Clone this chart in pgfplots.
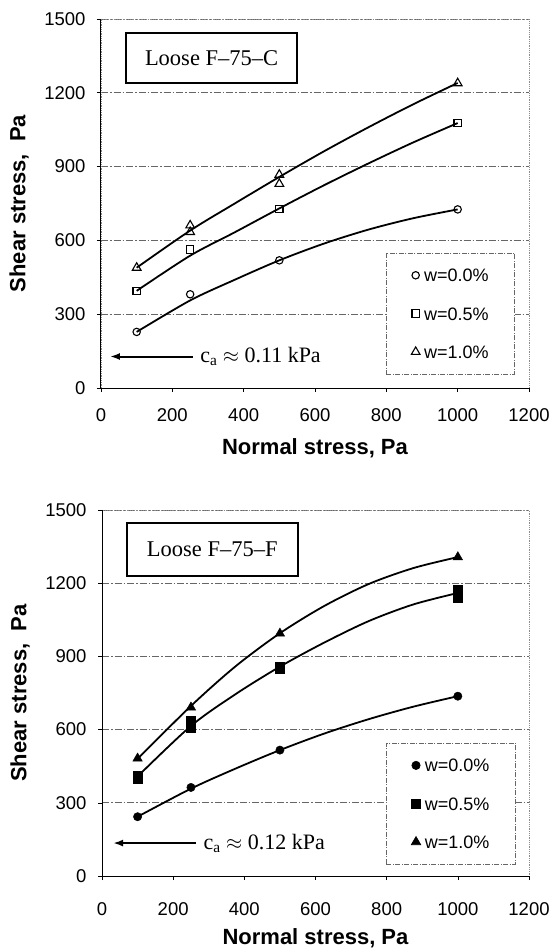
\documentclass[border=0pt]{standalone}
\usepackage{fontspec}
\setmainfont{Liberation Sans}
\newfontfamily\seriffont{Liberation Serif}
\usepackage{pgfplots}
\pgfplotsset{compat=1.18}
\usetikzlibrary{arrows.meta}

\pgfplotsset{
  markleg/.style={legend image code/.code={\draw[##1] plot coordinates {(0pt,0pt)};}},
  myax/.style={
    scale only axis,
    xmin=0, xmax=1200, ymin=0, ymax=1500,
    xtick={0,200,...,1200}, ytick={0,300,...,1500},
    xtick pos=bottom, ytick pos=left,
    /pgf/number format/assume math mode=true,
    /pgf/number format/1000 sep={},
    tick label style={font=\fontsize{18.5}{21}\selectfont, black},
    yticklabel={\pgfmathprintnumber{\tick}\hspace*{8pt}},
    label style={font=\bfseries\fontsize{22}{25}\selectfont},
    xlabel={Normal stress, Pa},
    ylabel={Shear stress,\ \ Pa},
    ylabel style={at={(axis description cs:0,0.5)}, anchor=center, yshift=82pt},
    ymajorgrids,
    major grid style={black!60, line width=0.7pt, dash pattern=on 7pt off 2pt on 1.5pt off 2pt},
    axis line style={black!45, densely dotted, line width=0.8pt},
    tick align=outside, major tick length=4pt,
    tick style={black, line width=0.6pt, solid},
    clip=false,
    legend cell align=left,
    legend style={
      draw=black!60, line width=0.6pt,
      dash pattern=on 5pt off 1.5pt on 1pt off 1.5pt,
      font=\fontsize{18}{20}\selectfont,
      row sep=25.3pt, column sep=3pt,
      inner xsep=25pt, inner ysep=15.8pt,
      nodes={text height=13pt, text depth=0pt, inner xsep=1pt, inner ysep=0pt},
    },
    curve/.style={smooth, line width=1.8pt, black, forget plot},
  }
}

\begin{document}
\begin{tikzpicture}
\path[use as bounding box] (0,0) rectangle (553pt,-949pt);

% ---------------- Top: Loose F-75-C ----------------
\begin{axis}[myax, width=428pt, height=369pt,
  at={(101pt,-388pt)}, anchor=south west,
  x tick label style={yshift=-13pt},
  xlabel style={at={(axis description cs:0.5,0)}, anchor=center, yshift=-60pt},
  legend style={at={(axis description cs:0.666,0.3667)}, anchor=north west},
  extra y ticks={300,600}, extra y tick labels={},
  extra y tick style={major tick length=0pt, grid style={black!70, line width=0.7pt, solid}},
]
\addplot[curve] coordinates {(100,228) (250,356) (375,440) (500,519) (625,587) (750,644) (875,690) (1000,726)};
\addplot[curve] coordinates {(100,395) (250,538) (375,633) (500,730) (625,824) (750,913) (875,998) (1000,1077)};
\addplot[curve] coordinates {(100,489) (250,640) (375,750) (500,858) (625,962) (750,1060) (875,1153) (1000,1240)};

\addplot[only marks, mark=o, mark size=3.7pt, black, mark options={solid, line width=1.1pt, fill=white}, markleg]
  coordinates {(100,228) (250,381) (500,519) (1000,726)};
\addlegendentry{w=0.0\%}
\addplot[only marks, mark=square, mark size=3.7pt, black, mark options={solid, line width=1.1pt, fill=white}, markleg]
  coordinates {(100,394) (250,563) (500,727) (1000,1077)};
\addlegendentry{w=0.5\%}
\addplot[only marks, mark=triangle, mark size=5pt, black, mark options={solid, line width=1.1pt, fill=white}, markleg]
  coordinates {(100,489) (250,634) (250,661) (500,830) (500,867) (1000,1239)};
\addlegendentry{w=1.0\%}

\draw[black, line width=1pt, solid] (rel axis cs:0,1) -- (rel axis cs:0,0) -- (rel axis cs:1,0);
\node[draw, line width=2.2pt, minimum width=171pt, minimum height=50pt, inner sep=0pt,
  font=\seriffont\fontsize{22.5}{25}\selectfont] at (axis cs:310,1340) {Loose F\textendash 75\textendash C};
\draw[-{Latex[length=10pt,width=7pt]}, line width=2pt] (axis cs:258,128) -- (axis cs:25,128);
\node[anchor=west, inner sep=0pt, font=\seriffont\fontsize{22}{24}\selectfont] at (axis cs:278,128)
  {c\textsubscript{a} $\approx$ 0.11 kPa};
\end{axis}

% ---------------- Bottom: Loose F-75-F ----------------
\begin{axis}[myax, width=427pt, height=366pt,
  at={(102pt,-876pt)}, anchor=south west,
  x tick label style={yshift=-19pt},
  xlabel style={at={(axis description cs:0.5,0)}, anchor=center, yshift=-62pt},
  legend style={at={(axis description cs:0.665,0.364)}, anchor=north west},
]
\addplot[curve] coordinates {(100,243) (250,358) (375,440) (500,516) (625,584) (750,643) (875,694) (1000,737)};
\addplot[curve] coordinates {(100,408) (250,615) (375,745) (500,858) (625,957) (750,1045) (875,1113) (1000,1160)};
\addplot[curve] coordinates {(100,480) (250,697) (375,859) (500,995) (625,1107) (750,1197) (875,1262) (1000,1307)};

\addplot[only marks, mark=*, mark size=4.2pt, black, mark options={solid}, markleg]
  coordinates {(100,243) (250,363) (500,516) (1000,737)};
\addlegendentry{w=0.0\%}
\addplot[only marks, mark=square*, mark size=4.6pt, black, mark options={solid}, markleg]
  coordinates {(100,400) (100,410) (250,610) (250,635) (500,849) (500,859) (1000,1143) (1000,1173)};
\addlegendentry{w=0.5\%}
\addplot[only marks, mark=triangle*, mark size=5.5pt, black, mark options={solid}, markleg]
  coordinates {(100,482) (250,691) (500,994) (1000,1307)};
\addlegendentry{w=1.0\%}

\draw[black, line width=1pt, solid] (rel axis cs:0,1) -- (rel axis cs:0,0) -- (rel axis cs:1,0);
\node[draw, line width=2.2pt, minimum width=171pt, minimum height=53pt, inner sep=0pt,
  font=\seriffont\fontsize{22.5}{25}\selectfont] at (axis cs:310,1338) {Loose F\textendash 75\textendash F};
\draw[-{Latex[length=10pt,width=7pt]}, line width=2pt] (axis cs:264,135) -- (axis cs:31,135);
\node[anchor=west, inner sep=0pt, font=\seriffont\fontsize{22}{24}\selectfont] at (axis cs:285,135)
  {c\textsubscript{a} $\approx$ 0.12 kPa};
\end{axis}
\end{tikzpicture}
\end{document}
